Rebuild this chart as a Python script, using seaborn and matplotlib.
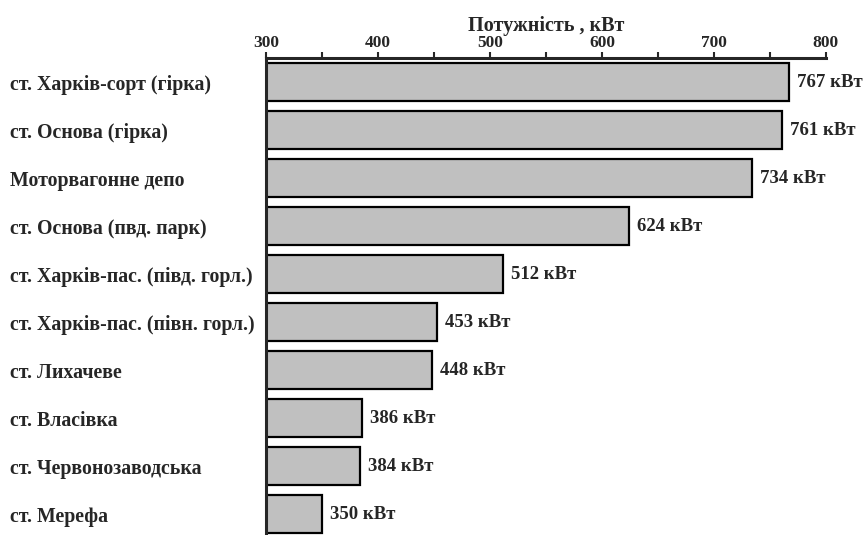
import matplotlib
matplotlib.use("Agg")
import pandas as pd
import seaborn as sns
import matplotlib.pyplot as plt

# data
stations = [
    "ст. Харків-сорт (гірка)",
    "ст. Основа (гірка)",
    "Моторвагонне депо",
    "ст. Основа (пвд. парк)",
    "ст. Харків-пас. (півд. горл.)",
    "ст. Харків-пас. (півн. горл.)",
    "ст. Лихачеве",
    "ст. Власівка",
    "ст. Червонозаводська",
    "ст. Мерефа",
]
power_kw = [767, 761, 734, 624, 512, 453, 448, 386, 384, 350]
unit = "кВт"

df = pd.DataFrame({"station": stations, "power": power_kw})

sns.set_style("white")
plt.rcParams["font.family"] = ["Liberation Serif", "DejaVu Serif"]
plt.rcParams["font.weight"] = "bold"

fig = plt.figure(figsize=(8.64, 5.35), dpi=100)
ax = fig.add_axes([0.3079, 0.0, 0.648, 0.8916])

sns.barplot(data=df, x="power", y="station", orient="h", color="#c0c0c0",
            edgecolor="black", linewidth=1.6, width=0.79, saturation=1, ax=ax)

ax.set_xlim(300, 800)
ax.set_ylim(9.43, -0.5)

# axis on top
ax.xaxis.set_ticks_position("top")
ax.xaxis.set_label_position("top")
ticks = list(range(300, 801, 50))
ax.set_xticks(ticks)
ax.set_xticklabels([str(t) if t % 100 == 0 else "" for t in ticks],
                   fontsize=12.5, fontweight="bold")
ax.tick_params(axis="x", direction="out", length=4, width=1.5, pad=1, top=True)
ax.set_xlabel("Потужність , кВт", fontsize=14.5, fontweight="bold", labelpad=3)

ax.set_ylabel("")
ax.tick_params(axis="y", length=0, pad=184)
for lbl in ax.get_yticklabels():
    lbl.set_horizontalalignment("left")
    lbl.set_fontsize(14.3)
    lbl.set_fontweight("bold")

for side in ["right", "bottom"]:
    ax.spines[side].set_visible(False)
ax.spines["top"].set_linewidth(2.2)
ax.spines["left"].set_linewidth(2.2)

for i, v in enumerate(power_kw):
    ax.text(v + 7, i, f"{v} {unit}", va="center", ha="left",
            fontsize=13.5, fontweight="bold", clip_on=False)

fig.savefig("out.png", dpi=100)
